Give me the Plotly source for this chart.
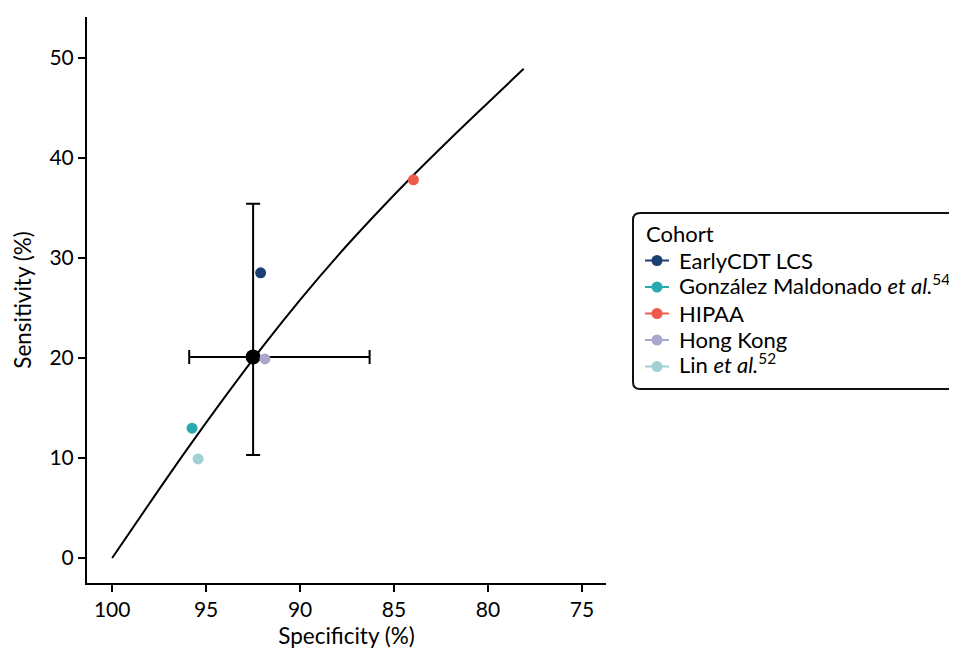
import plotly.graph_objects as go

# Study points
cohorts = ["EarlyCDT LCS", "González Maldonado <i>et al.</i><sup>54</sup>", "HIPAA",
           "Hong Kong", "Lin <i>et al.</i><sup>52</sup>"]
specificity = [92.1, 95.75, 83.97, 91.87, 95.43]
sensitivity = [28.5, 12.97, 37.8, 19.9, 9.9]
colors = ["#1c3f73", "#2aa9b1", "#ee5b4c", "#a9a8cc", "#9ed0d6"]
legend_title = "Cohort"

# Pooled summary estimate with confidence intervals
pooled_spec = 92.5
pooled_sens = 20.1
pooled_spec_ci = [86.3, 95.9]
pooled_sens_ci = [10.3, 35.4]

# SROC curve
curve_spec = [100, 98, 96, 94, 92, 90, 88, 86, 84, 82, 80, 78.1]
curve_sens = [0, 5.5, 10.9, 16.1, 21.1, 25.8, 30.2, 34.3, 38.2, 41.9, 45.5, 48.9]

FONT = "Lato, 'Open Sans', sans-serif"
W, H = 957, 651
ML, MR, MT, MB = 79, 359, 9, 76
PW, PH = W - ML - MR, H - MT - MB


def px(fx):
    """figure pixel x -> paper x"""
    return (fx - ML) / PW


def py(fy):
    """figure pixel y (from top) -> paper y"""
    return 1 - (fy - MT) / PH


fig = go.Figure()

fig.add_trace(go.Scatter(
    x=curve_spec, y=curve_sens, mode="lines", line=dict(color="black", width=2, shape="spline"),
    showlegend=False, hoverinfo="skip"))

fig.add_trace(go.Scatter(
    x=[pooled_spec], y=[pooled_sens], mode="markers",
    marker=dict(color="black", size=15),
    error_x=dict(type="data", symmetric=False,
                 array=[pooled_spec_ci[1] - pooled_spec],
                 arrayminus=[pooled_spec - pooled_spec_ci[0]],
                 color="black", thickness=2, width=7),
    error_y=dict(type="data", symmetric=False,
                 array=[pooled_sens_ci[1] - pooled_sens],
                 arrayminus=[pooled_sens - pooled_sens_ci[0]],
                 color="black", thickness=2, width=7),
    showlegend=False, name="Pooled"))

for name, sx, sy, c in zip(cohorts, specificity, sensitivity, colors):
    fig.add_trace(go.Scatter(
        x=[sx], y=[sy], mode="markers", name=name, showlegend=False,
        marker=dict(color=c, size=11)))

# ---- custom legend (box with rounded corners) ----
shapes = []
annotations = []
bx0, by0, bx1, by1, r = 625, 205, 975, 381, 7
path = (f"M {px(bx0 + r)},{py(by0)} L {px(bx1 - r)},{py(by0)} "
        f"Q {px(bx1)},{py(by0)} {px(bx1)},{py(by0 + r)} L {px(bx1)},{py(by1 - r)} "
        f"Q {px(bx1)},{py(by1)} {px(bx1 - r)},{py(by1)} L {px(bx0 + r)},{py(by1)} "
        f"Q {px(bx0)},{py(by1)} {px(bx0)},{py(by1 - r)} L {px(bx0)},{py(by0 + r)} "
        f"Q {px(bx0)},{py(by0)} {px(bx0 + r)},{py(by0)} Z")
shapes.append(dict(type="path", path=path, xref="paper", yref="paper",
                   line=dict(color="#111111", width=2), fillcolor="white", layer="above"))
annotations.append(dict(text=legend_title, xref="paper", yref="paper", x=px(636), y=py(225),
                        xanchor="left", yanchor="middle", showarrow=False,
                        font=dict(size=22, family=FONT, color="black")))
item_y0, item_dy = 252.5, 26.5
for i, (name, c) in enumerate(zip(cohorts, colors)):
    fy = item_y0 + i * item_dy
    shapes.append(dict(type="line", xref="paper", yref="paper", xsizemode="pixel", ysizemode="pixel",
                       xanchor=px(649), yanchor=py(fy), x0=-12, x1=12, y0=0, y1=0,
                       line=dict(color=c, width=2), layer="above"))
    shapes.append(dict(type="circle", xref="paper", yref="paper", xsizemode="pixel", ysizemode="pixel",
                       xanchor=px(649), yanchor=py(fy), x0=-5.5, x1=5.5, y0=-5.5, y1=5.5,
                       fillcolor=c, line=dict(color=c, width=0), layer="above"))
    yshift = 3 if "<sup>" in name else 0
    annotations.append(dict(text=name, xref="paper", yref="paper", x=px(669), y=py(fy),
                            xanchor="left", yanchor="middle", showarrow=False, yshift=yshift,
                            font=dict(size=22, family=FONT, color="black")))

fig.update_layout(
    width=W, height=H,
    margin=dict(l=ML, r=MR, t=MT, b=MB),
    paper_bgcolor="white", plot_bgcolor="white",
    font=dict(family=FONT, size=21, color="black"),
    showlegend=False,
    shapes=shapes, annotations=annotations,
    xaxis=dict(range=[101.34, 73.72], tickvals=[100, 95, 90, 85, 80, 75],
               showline=True, linecolor="black", linewidth=2, ticks="outside",
               ticklen=7, tickwidth=1.5, tickcolor="black", showgrid=False, zeroline=False,
               title=dict(text="Specificity (%)", font=dict(size=22.5), standoff=8),
               tickfont=dict(size=21)),
    yaxis=dict(range=[-2.5, 54.07], tickvals=[0, 10, 20, 30, 40, 50],
               showline=True, linecolor="black", linewidth=2, ticks="outside",
               ticklen=7, tickwidth=1.5, tickcolor="black", showgrid=False, zeroline=False,
               title=dict(text="Sensitivity (%)", font=dict(size=22.5), standoff=12),
               tickfont=dict(size=21)),
)

fig.write_html("out.html")
